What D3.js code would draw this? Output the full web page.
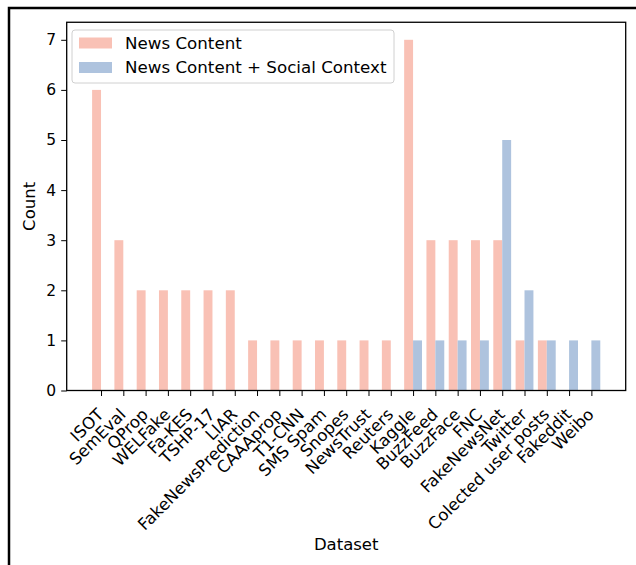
<!DOCTYPE html>
<html><head><meta charset="utf-8">
<script src="https://cdn.jsdelivr.net/npm/d3@7"></script>
<style>
html,body{margin:0;padding:0;background:#fff;}
svg{display:block;font-family:"DejaVu Sans",sans-serif;}
</style></head>
<body><svg id="chart" width="636" height="565"></svg>
<script>
const categories = ["ISOT","SemEval","QProp","WELFake","Fa-KES","TSHP-17","LIAR","FakeNewsPrediction","CAAAprop","T1-CNN","SMS Spam","Snopes","NewsTrust","Reuters","Kaggle","BuzzFeed","BuzzFace","FNC","FakeNewsNet","Twitter","Colected user posts","Fakeddit","Weibo"];
const newsContent   = [6,3,2,2,2,2,2,1,1,1,1,1,1,1,7,3,3,3,3,1,1,0,0];
const socialContext = [0,0,0,0,0,0,0,0,0,0,0,0,0,0,1,1,1,1,5,2,1,1,1];
const seriesNames = ["News Content","News Content + Social Context"];
const seriesColors = ["#f9c1b5","#aec3de"];
const yTicks = [0,1,2,3,4,5,6,7];

const svg = d3.select("#chart");
const L = 66.7, R = 625.7, B = 390.5, T = B - 7.35*50.1;
const n = categories.length;
const barW = 0.4;
const span = (n - 1) + 2*barW;
const x = d3.scaleLinear().domain([-barW - 0.05*span, (n-1) + barW + 0.05*span]).range([L, R]);
const y = d3.scaleLinear().domain([0, 7*1.05]).range([B, T]);

// outer frame
svg.append("rect").attr("x",9).attr("y",8).attr("width",660).attr("height",600)
  .attr("fill","none").attr("stroke","#000").attr("stroke-width",2.5);

const series = [newsContent, socialContext];
series.forEach((vals, s) => {
  svg.append("g").selectAll("rect").data(vals).join("rect")
    .attr("x", (d,i) => x(i + (s===0 ? -barW : 0)))
    .attr("width", (d,i) => x(i + barW) - x(i))
    .attr("y", d => y(d))
    .attr("height", d => y(0) - y(d))
    .attr("fill", seriesColors[s]);
});

// axes
const yAxis = svg.append("g").attr("transform",`translate(${L},0)`)
  .call(d3.axisLeft(y).tickValues(yTicks).tickFormat(d3.format("d")).tickSize(5.5).tickPadding(5));
yAxis.select(".domain").remove();
yAxis.selectAll("text").attr("font-size",15.5).attr("fill","#000").attr("font-family","DejaVu Sans");
yAxis.selectAll("line").attr("stroke","#000");

const xAxis = svg.append("g").attr("transform",`translate(0,${B})`)
  .call(d3.axisBottom(x).tickValues(d3.range(n)).tickFormat(i => categories[i]).tickSize(5.5));
xAxis.select(".domain").remove();
xAxis.selectAll("line").attr("stroke","#000");
xAxis.selectAll("text")
  .attr("font-size",16.5).attr("fill","#000").attr("font-family","DejaVu Sans")
  .attr("text-anchor","end")
  .attr("dy",null).attr("y",null)
  .attr("transform","translate(3,25) rotate(-45)");

// spines
svg.append("rect").attr("x",L).attr("y",T).attr("width",R-L).attr("height",B-T)
  .attr("fill","none").attr("stroke","#000").attr("stroke-width",1.3);

// axis labels
svg.append("text").attr("x",(L+R)/2).attr("y",550).attr("text-anchor","middle")
  .attr("font-size",16.5).text("Dataset");
svg.append("text").attr("transform",`translate(35,${(T+B)/2}) rotate(-90)`).attr("text-anchor","middle")
  .attr("font-size",16.5).text("Count");

// legend
const lg = svg.append("g");
lg.append("rect").attr("x",72).attr("y",30).attr("width",322).attr("height",53).attr("rx",3)
  .attr("fill","#fff").attr("fill-opacity",0.8).attr("stroke","#d0d0d0");
seriesNames.forEach((nm, s) => {
  lg.append("rect").attr("x",79).attr("y",37.5 + s*24.5).attr("width",33).attr("height",11).attr("fill",seriesColors[s]);
  lg.append("text").attr("x",125).attr("y",48.5 + s*24.5).attr("font-size",16.7).attr("fill","#000").text(nm);
});
</script></body></html>
